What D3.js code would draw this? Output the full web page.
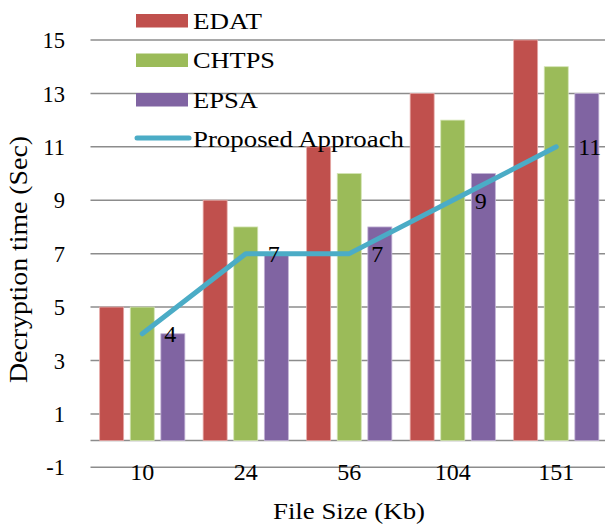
<!DOCTYPE html>
<html>
<head>
<meta charset="utf-8">
<script src="https://cdn.jsdelivr.net/npm/d3@7"></script>
<style>
  html, body { margin: 0; padding: 0; background: #fff; }
  svg { display: block; }
</style>
</head>
<body>
<svg id="chart" width="605" height="527"></svg>
<script>
// File sizes (Kb) on the x axis
const fileSizes = ["10", "24", "56", "104", "151"];
// Decryption time (Sec) per scheme
const edat = [5, 9, 11, 13, 15];
const chtps = [5, 8, 10, 12, 14];
const epsa = [4, 7, 8, 10, 13];
const proposed = [4, 7, 7, 9, 11];
const yTicks = [-1, 1, 3, 5, 7, 9, 11, 13, 15];

const barSeries = [
  { name: "EDAT", values: edat, color: "#C0504D", stroke: "#E6A9A7" },
  { name: "CHTPS", values: chtps, color: "#9BBB59", stroke: "#D3E4B3" },
  { name: "EPSA", values: epsa, color: "#8064A2", stroke: "#C2B3D5" }
];
const lineColor = "#4BACC6";
const FONT = "'Liberation Serif', 'Times New Roman', Times, serif";

const svg = d3.select("#chart").style("font-family", FONT);
const plot = { left: 90.5, right: 608, top: 40, bottom: 467.3 };

const x = d3.scaleBand().domain(fileSizes).range([plot.left, plot.right]).paddingInner(0).paddingOuter(0);
const y = d3.scaleLinear().domain([-1, 15]).range([plot.bottom, plot.top]);

const barW = 24, barStep = 30.6;
const offsets = [-barStep, 0, barStep];

// gridlines
svg.append("g")
  .selectAll("line")
  .data(yTicks)
  .join("line")
  .attr("x1", plot.left).attr("x2", 605)
  .attr("y1", d => y(d)).attr("y2", d => y(d))
  .attr("stroke", "#8C8C8C").attr("stroke-width", 1.5);

// zero baseline
svg.append("line")
  .attr("x1", plot.left).attr("x2", 605)
  .attr("y1", y(0)).attr("y2", y(0))
  .attr("stroke", "#8C8C8C").attr("stroke-width", 1.5);

// y tick labels
const yAxis = d3.axisLeft(y).tickValues(yTicks).tickSize(0).tickPadding(0)
  .tickFormat(d => String(d));
const gy = svg.append("g").attr("transform", "translate(65,0)").call(yAxis);
gy.attr("font-family", null).attr("font-size", null);
gy.select(".domain").remove();
gy.selectAll("text")
  .style("font-family", FONT)
  .attr("font-size", 22.5).attr("fill", "#000").attr("dy", "0.34em");

// x tick labels
const xAxis = d3.axisBottom(x).tickSize(0).tickPadding(0);
const gx = svg.append("g").attr("transform", "translate(0,480)").call(xAxis);
gx.attr("font-family", null).attr("font-size", null);
gx.select(".domain").remove();
gx.selectAll("text")
  .style("font-family", FONT)
  .attr("font-size", 24).attr("fill", "#000").attr("y", 0).attr("dy", 0);

// bars
barSeries.forEach((s, si) => {
  svg.append("g")
    .selectAll("rect")
    .data(s.values)
    .join("rect")
    .attr("x", (d, i) => x(fileSizes[i]) + x.bandwidth() / 2 + offsets[si] - barW / 2)
    .attr("y", d => y(d))
    .attr("width", barW)
    .attr("height", d => y(0) - y(d))
    .attr("fill", s.color)
    .attr("stroke", s.stroke)
    .attr("stroke-width", 0.8);
});

// proposed approach line
const cx = i => x(fileSizes[i]) + x.bandwidth() / 2;
const line = d3.line().x((d, i) => cx(i)).y(d => y(d));
svg.append("path")
  .datum(proposed)
  .attr("d", line)
  .attr("fill", "none")
  .attr("stroke", lineColor)
  .attr("stroke-width", 5)
  .attr("stroke-linecap", "round")
  .attr("stroke-linejoin", "round");

// value labels for the line
svg.append("g")
  .selectAll("text")
  .data(proposed)
  .join("text")
  .attr("x", (d, i) => cx(i) + 22)
  .attr("y", d => y(d))
  .attr("dy", "0.36em")
  .attr("font-size", 24)
  .text(d => d);

// legend
const legend = svg.append("g");
const legendItems = barSeries.map(s => ({ name: s.name, color: s.color, type: "bar" }))
  .concat([{ name: "Proposed Approach", color: lineColor, type: "line" }]);
const legendTextWidths = [69, 82, 65, 211];
legendItems.forEach((it, i) => {
  const cy = 20.5 + i * 39.5;
  if (it.type === "bar") {
    legend.append("rect")
      .attr("x", 136).attr("y", cy - 6.5).attr("width", 52).attr("height", 13.5)
      .attr("fill", it.color);
  } else {
    legend.append("line")
      .attr("x1", 137).attr("x2", 189).attr("y1", cy - 1).attr("y2", cy - 1)
      .attr("stroke", it.color).attr("stroke-width", 5).attr("stroke-linecap", "round");
  }
  legend.append("text")
    .attr("x", 193).attr("y", cy + 8.3)
    .attr("font-size", 23)
    .attr("textLength", legendTextWidths[i])
    .attr("lengthAdjust", "spacingAndGlyphs")
    .text(it.name);
});

// axis titles
svg.append("text")
  .attr("x", 273).attr("y", 519)
  .attr("font-size", 23)
  .attr("textLength", 152)
  .attr("lengthAdjust", "spacingAndGlyphs")
  .text("File Size (Kb)");

svg.append("text")
  .attr("transform", "translate(27,383) rotate(-90)")
  .attr("font-size", 25)
  .attr("textLength", 247)
  .attr("lengthAdjust", "spacingAndGlyphs")
  .text("Decryption time (Sec)");
</script>
</body>
</html>
